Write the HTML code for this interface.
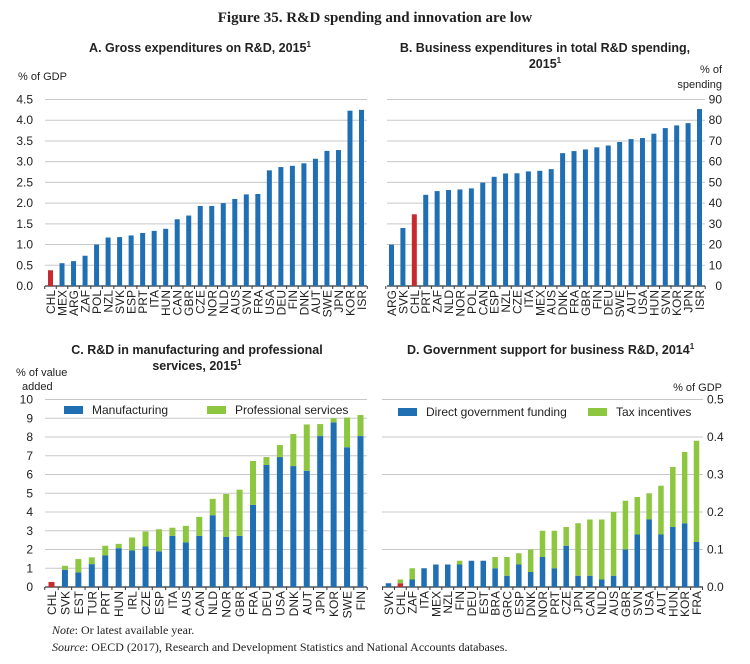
<!DOCTYPE html>
<html><head><meta charset="utf-8">
<style>
html,body{margin:0;padding:0;background:#fff;}
svg{display:block;}
text{font-family:"Liberation Sans",Arial,sans-serif;fill:#222;}
.serif{font-family:"Liberation Serif","Times New Roman",serif;}
</style></head>
<body>
<svg id="fig" width="750" height="664" viewBox="0 0 750 664" xmlns="http://www.w3.org/2000/svg">
<text class="serif" x="375" y="22" text-anchor="middle" font-size="15" font-weight="bold">Figure 35. R&amp;D spending and innovation are low</text>
<text x="200" y="52" text-anchor="middle" font-size="12.5" font-weight="bold">A. Gross expenditures on R&amp;D, 2015<tspan font-size="8" dy="-5">1</tspan></text>
<text x="18" y="80" font-size="11">% of GDP</text>
<text x="545" y="52" text-anchor="middle" font-size="12.5" font-weight="bold">B. Business expenditures in total R&amp;D spending,</text>
<text x="545" y="68" text-anchor="middle" font-size="12.5" font-weight="bold">2015<tspan font-size="8" dy="-5">1</tspan></text>
<text x="722" y="73" text-anchor="end" font-size="11">% of</text>
<text x="722" y="88" text-anchor="end" font-size="11">spending</text>
<text x="197" y="354" text-anchor="middle" font-size="12.5" font-weight="bold">C. R&amp;D in manufacturing and professional</text>
<text x="197" y="370" text-anchor="middle" font-size="12.5" font-weight="bold">services, 2015<tspan font-size="8" dy="-5">1</tspan></text>
<text x="16" y="376" font-size="11">% of value</text>
<text x="22" y="390" font-size="11">added</text>
<text x="407" y="354" font-size="12.5" font-weight="bold">D. Government support for business R&amp;D, 2014<tspan font-size="8" dy="-5">1</tspan></text>
<text x="722" y="391" text-anchor="end" font-size="11">% of GDP</text>
<text class="serif" x="52" y="634" font-size="12"><tspan font-style="italic">Note</tspan>: Or latest available year.</text>
<text class="serif" x="52" y="651" font-size="12"><tspan font-style="italic">Source</tspan>: OECD (2017), Research and Development Statistics and National Accounts databases.</text>
<g id="charts"></g>
</svg>
<script>
// Panel A
const catsA = ["CHL","MEX","ARG","ZAF","POL","NZL","SVK","ESP","PRT","ITA","HUN","CAN","GBR","CZE","NOR","NLD","AUS","SVN","FRA","USA","DEU","FIN","DNK","AUT","SWE","JPN","KOR","ISR"];
const valsA = [0.38,0.55,0.6,0.73,1.0,1.17,1.18,1.22,1.28,1.33,1.38,1.61,1.7,1.93,1.93,2.0,2.1,2.21,2.22,2.79,2.87,2.9,2.96,3.07,3.26,3.28,4.23,4.25];
const ticksA = ["0.0","0.5","1.0","1.5","2.0","2.5","3.0","3.5","4.0","4.5"];
// Panel B
const catsB = ["ARG","SVK","CHL","PRT","ZAF","NLD","NOR","POL","CAN","ESP","NZL","CZE","ITA","MEX","AUS","DNK","FRA","GBR","FIN","DEU","SWE","AUT","USA","HUN","SVN","KOR","JPN","ISR"];
const valsB = [20,28,34.6,44,45.8,46.3,46.6,47.1,49.9,52.7,54.3,54.4,55.3,55.6,56.4,64.1,65.1,65.9,66.9,67.8,69.5,70.9,71.4,73.5,76.2,77.5,78.6,85.4];
const ticksB = ["0","10","20","30","40","50","60","70","80","90"];
// Panel C
const catsC = ["CHL","SVK","EST","TUR","PRT","HUN","IRL","CZE","ESP","ITA","AUS","CAN","NLD","NOR","GBR","FRA","DEU","USA","DNK","AUT","JPN","KOR","SWE","FIN"];
const manuC = [0.27,0.92,0.78,1.22,1.68,2.07,1.95,2.16,1.9,2.73,2.38,2.73,3.83,2.68,2.73,4.38,6.51,6.93,6.45,6.2,8.05,8.78,7.45,8.05];
const profC = [0,0.21,0.71,0.36,0.52,0.23,0.69,0.8,1.18,0.43,0.88,1.01,0.87,2.28,2.46,2.34,0.42,0.64,1.71,2.47,0.64,0.22,1.59,1.12];
const ticksC = ["0","1","2","3","4","5","6","7","8","9","10"];
// Panel D
const catsD = ["SVK","CHL","ZAF","ITA","MEX","NZL","FIN","DEU","EST","BRA","GRC","ESP","DNK","NOR","PRT","CZE","JPN","CAN","NLD","AUS","GBR","SVN","USA","AUT","HUN","KOR","FRA"];
const directD = [0.01,0.01,0.02,0.05,0.06,0.06,0.06,0.07,0.07,0.05,0.03,0.06,0.04,0.08,0.05,0.11,0.03,0.03,0.02,0.03,0.10,0.14,0.18,0.14,0.16,0.17,0.12];
const taxD = [0,0.01,0.03,0,0,0,0.01,0,0,0.03,0.05,0.03,0.06,0.07,0.10,0.05,0.14,0.15,0.16,0.17,0.13,0.10,0.07,0.13,0.16,0.19,0.27];
const ticksD = ["0.0","0.1","0.2","0.3","0.4","0.5"];

const BLUE="#1f6fb2", GREEN="#8dc63f", RED="#c62a2f";
const NS="http://www.w3.org/2000/svg";
const root=document.getElementById('charts');
function mk(tag,attrs,parent){const e=document.createElementNS(NS,tag);for(const k in attrs)e.setAttribute(k,attrs[k]);(parent||root).appendChild(e);return e;}

function panel(p){
  const g=mk('g',{});
  
  
  const y=v=>p.y0-(v/p.max)*(p.y0-p.yTop);
  const n=p.cats.length;
  const step=(p.xLast-p.xFirst)/(n-1);
  const x=i=>p.xFirst+i*step;
  p.ticks.forEach((t,i)=>{
    const v=i*p.tickStep, yy=y(v);
    if(i>0){const gl=mk('line',{x1:p.gx1,x2:p.gx2,y1:yy,y2:yy,stroke:"#c8c8c8","stroke-width":1},g);
      
      }
    const tx=mk('text',{x:p.labX,y:yy+4,"text-anchor":p.labAnchor,"font-size":12},g);
    
    
    tx.textContent=t;
  });
  const ax=mk('line',{x1:p.gx1,x2:p.gx2,y1:p.y0,y2:p.y0,stroke:"#333","stroke-width":1.2},g);
  
  
  for(let i=0;i<=n;i++){const tx=x(i)-step/2;
    const tk=mk('line',{x1:tx,x2:tx,y1:p.y0,y2:p.y0+3,stroke:"#333","stroke-width":1},g);
    
    }
  p.cats.forEach((c,i)=>{
    const cx=x(i);
    const isChl=c==="CHL";
    const b=mk('rect',{x:cx-p.bw/2,y:y(p.s1[i]),width:p.bw,height:p.y0-y(p.s1[i]),fill:isChl?RED:BLUE},g);
    
    
    if(p.s2){
      const top=p.s1[i]+p.s2[i];
      const b2=mk('rect',{x:cx-p.bw/2,y:y(top),width:p.bw,height:y(p.s1[i])-y(top),fill:GREEN},g);
      
      
    }
    const t=mk('text',{x:0,y:0,"text-anchor":"end","font-size":12,transform:`translate(${cx+4.5},${p.y0+4}) rotate(-90)`},g);
    
    
    t.textContent=c;
  });
  if(p.legend){p.legend.forEach(L=>{
    const r=mk('rect',{x:L.x,y:L.y,width:19,height:8,fill:L.color},g);
    
    
    const t=mk('text',{x:L.x+28,y:L.y+8,"font-size":12},g);
    
    
    t.textContent=L.label;
  });}
}
panel({name:"panel-a-chart",cats:catsA,s1:valsA,ticks:ticksA,tickStep:0.5,max:4.5,y0:286,yTop:99.5,gx1:45,gx2:367,xFirst:50.5,xLast:361.5,bw:5,labX:33,labAnchor:"end"});
panel({name:"panel-b-chart",cats:catsB,s1:valsB,ticks:ticksB,tickStep:10,max:90,y0:286,yTop:99.5,gx1:387,gx2:705,xFirst:391.5,xLast:699.5,bw:5,labX:722,labAnchor:"end"});
panel({name:"panel-c-chart",cats:catsC,s1:manuC,s2:profC,ticks:ticksC,tickStep:1,max:10,y0:587,yTop:399.5,gx1:45,gx2:367,xFirst:51.5,xLast:360.5,bw:6,labX:33,labAnchor:"end",
  legend:[{x:64,y:406,color:BLUE,label:"Manufacturing"},{x:207,y:406,color:GREEN,label:"Professional services"}]});
panel({name:"panel-d-chart",cats:catsD,s1:directD,s2:taxD,ticks:ticksD,tickStep:0.1,max:0.5,y0:587,yTop:399.5,gx1:382,gx2:703,xFirst:388.5,xLast:696.5,bw:5.5,labX:707,labAnchor:"start",
  legend:[{x:398,y:408,color:BLUE,label:"Direct government funding"},{x:588,y:408,color:GREEN,label:"Tax incentives"}]});
</script>
</body></html>
